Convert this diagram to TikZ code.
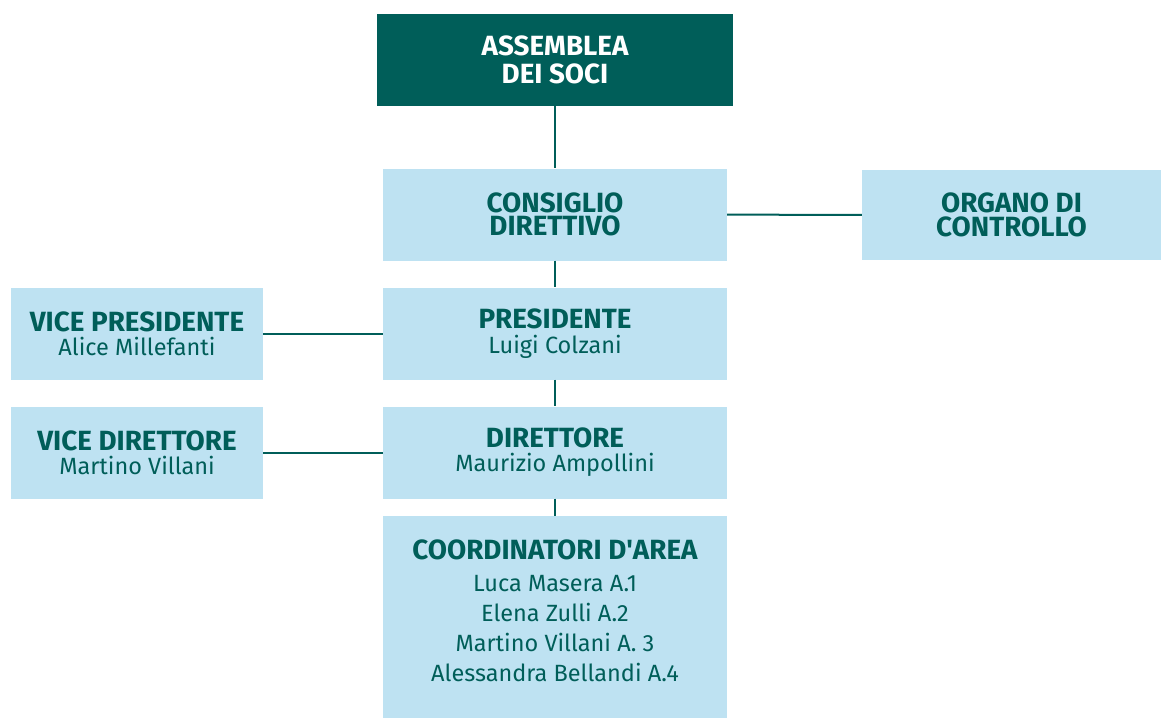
\documentclass[tikz,border=0pt]{standalone}
\usepackage{fontspec}
\setmainfont{Fira Sans}
\usepackage{tikz}
\usetikzlibrary{positioning}

\definecolor{deepteal}{HTML}{005E59}
\definecolor{sky}{HTML}{BEE2F2}

\newcommand{\hd}[1]{{\fontsize{27.8}{30}\selectfont\bfseries #1}}
\newcommand{\nm}[1]{{\fontsize{23.5}{30}\selectfont #1}}

\tikzset{
  box/.style={fill=sky, text=deepteal, align=center, inner sep=0pt,
    font={\fontsize{23.5}{30}\selectfont},
    minimum width=344pt, minimum height=92pt},
  topbox/.style={box, fill=deepteal, text=white, minimum width=356pt},
  sidebox/.style={box, minimum width=252pt},
  link/.style={draw=deepteal, line width=2pt}
}

\begin{document}
\begin{tikzpicture}[x=1pt, y=-1pt]
\useasboundingbox (0,0) rectangle (1161,718);
\node[topbox] (as) at (555,60) {\hd{ASSEMBLEA}\\[-2pt]\hd{DEI SOCI}};
\node[box] (cd) at (555,214.5) {\hd{CONSIGLIO}\\[-7pt]\hd{DIRETTIVO}};
\node[box, minimum width=299pt, minimum height=90pt] (oc) at (1011.5,215) {\hd{ORGANO DI}\\[-6pt]\hd{CONTROLLO}};
\node[box] (pr) at (555,333.5) {\hd{PRESIDENTE}\\[-5pt]\nm{Luigi Colzani}};
\node[sidebox] (vp) at (137,333.5) {\hd{VICE PRESIDENTE}\\[-6pt]\nm{Alice Millefanti}};
\node[box] (di) at (555,452.5) {\hd{DIRETTORE}\\[-6pt]\nm{Maurizio Ampollini}};
\node[sidebox] (vd) at (137,452.5) {\hd{VICE DIRETTORE}\\[-6pt]\nm{Martino Villani}};
\node[box, minimum height=202pt] (ca) at (555,617)
  {\hd{COORDINATORI D\textquotesingle AREA}\\[2pt]\nm{Luca Masera A.1}\\\nm{Elena Zulli A.2}\\
   \nm{Martino Villani A. 3}\\\nm{Alessandra Bellandi A.4\rule[-12pt]{0pt}{0pt}}};
\draw[link] (as) -- (cd);
\draw[link] (cd) -- (pr);
\draw[link] (pr) -- (di);
\draw[link] (di) -- (ca);
\draw[link] (cd) -- (oc);
\draw[link] (vp) -- (pr);
\draw[link] (vd) -- (di);
\end{tikzpicture}
\end{document}
